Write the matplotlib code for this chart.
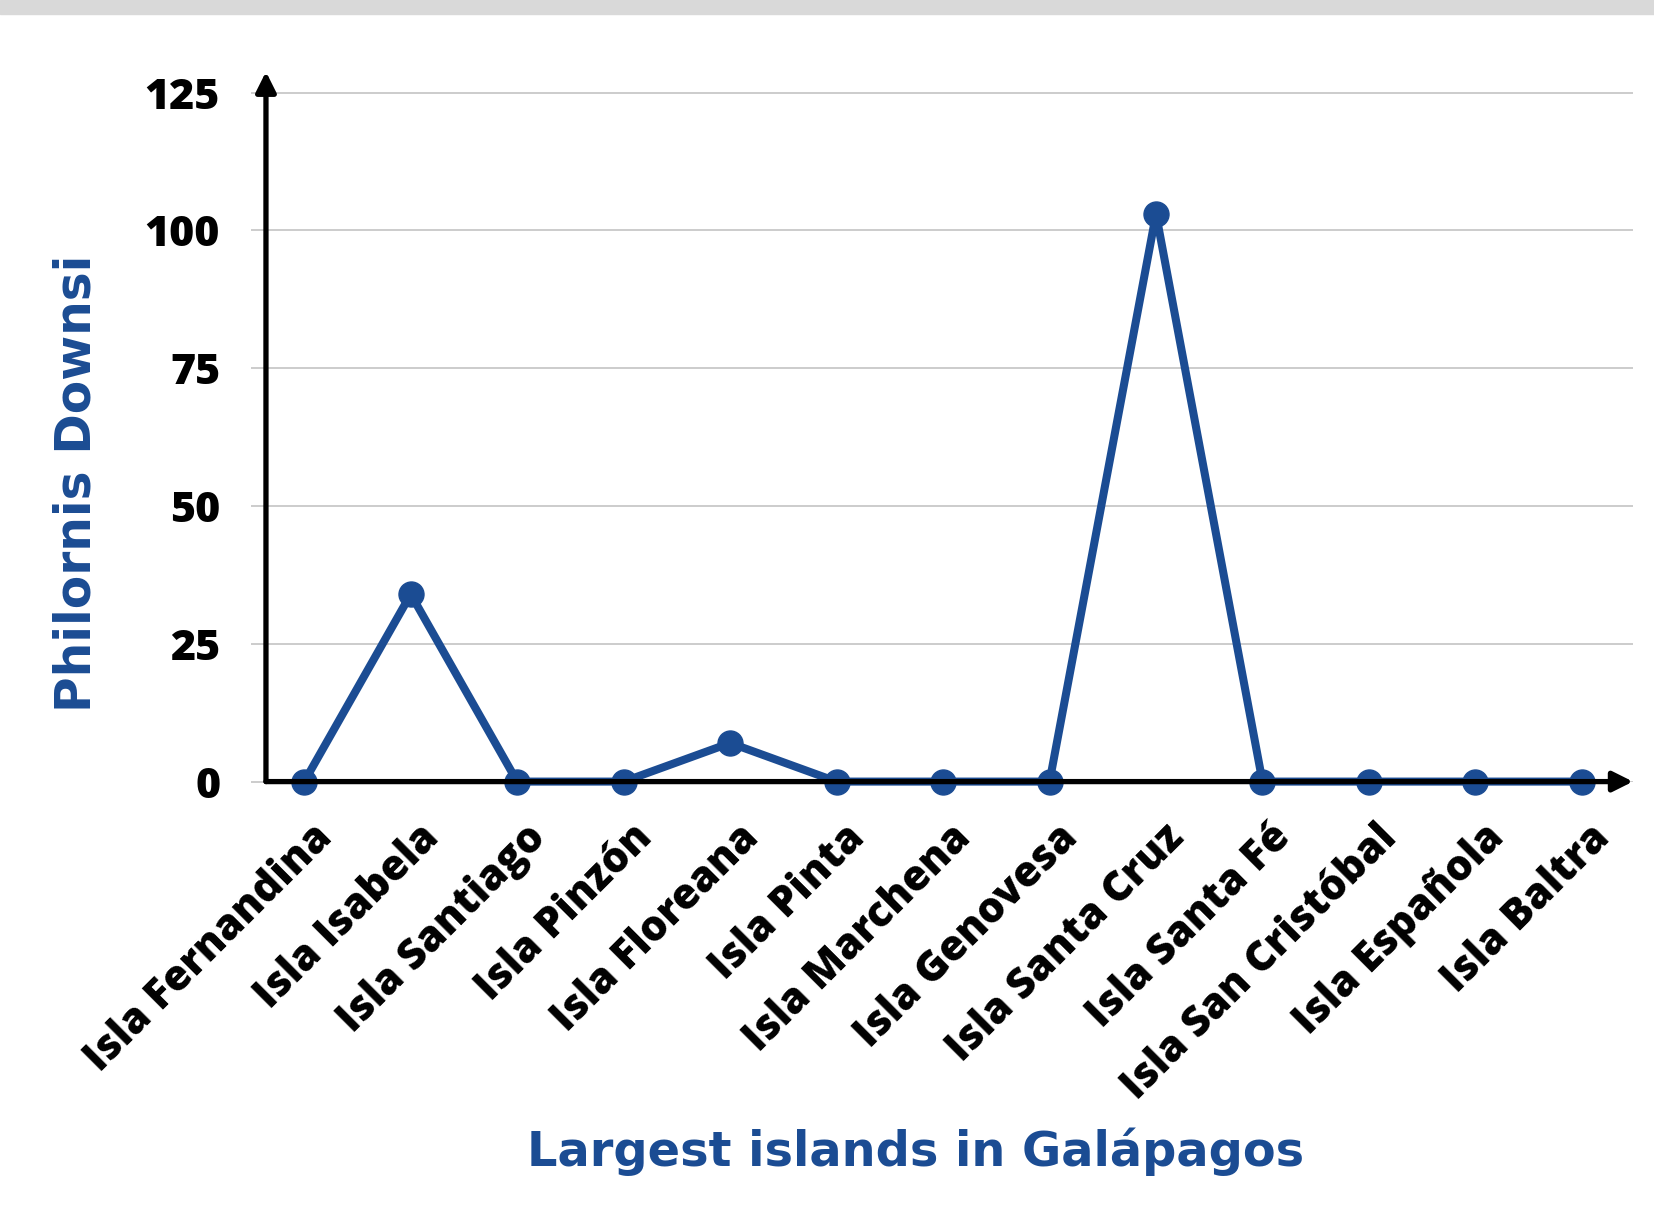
import matplotlib.pyplot as plt
from matplotlib.transforms import ScaledTranslation
from matplotlib.patches import Rectangle

# Data
ISLANDS = ['Isla Fernandina', 'Isla Isabela', 'Isla Santiago', 'Isla Pinzón',
           'Isla Floreana', 'Isla Pinta', 'Isla Marchena', 'Isla Genovesa',
           'Isla Santa Cruz', 'Isla Santa Fé', 'Isla San Cristóbal',
           'Isla Española', 'Isla Baltra']
COUNTS = [0, 34, 0, 0, 7, 0, 0, 0, 103, 0, 0, 0, 0]
Y_TICKS = [0, 25, 50, 75, 100, 125]

BLUE = '#1B4C93'
GRID = '#c4c4c4'
TICK_FONT = 'Open Sans'
LABEL_FONT = 'DejaVu Sans'

fig = plt.figure(figsize=(16.54, 12.22), dpi=100)
fig.patches.append(Rectangle((0, 1 - 14 / 1222), 1, 14 / 1222, transform=fig.transFigure,
                             color='#d9d9d9', zorder=0))
ax = fig.add_axes([0.1608, 0.3604, 0.8265, 0.5809])

x = list(range(len(ISLANDS)))
ax.plot(x, COUNTS, color=BLUE, lw=5.8, marker='o', markersize=18,
        clip_on=False, zorder=3)

ax.set_xlim(-0.36, 12.48)
ax.set_ylim(0, 128.8)

for side in ['top', 'right', 'left', 'bottom']:
    ax.spines[side].set_visible(False)

# axes drawn as arrows
for tip in [(0, 1), (1, 0)]:
    ax.annotate('', xy=tip, xytext=(0, 0), xycoords='axes fraction',
                arrowprops=dict(arrowstyle='-|>', lw=3.8, color='black',
                                mutation_scale=30, shrinkA=0, shrinkB=0),
                zorder=4, annotation_clip=False)

ax.set_yticks(Y_TICKS)
ax.set_yticklabels([str(v) for v in Y_TICKS], fontfamily=TICK_FONT,
                   fontweight=800, fontsize=31)
ax.yaxis.grid(True, color=GRID, lw=1.2)
ax.tick_params(axis='y', length=11, width=1.2, color=GRID, pad=22)

ax.set_xticks(x)
ax.set_xticklabels(ISLANDS, rotation=45, ha='right', va='center',
                   rotation_mode='anchor', fontfamily=TICK_FONT,
                   fontweight=800, fontsize=30)
ax.tick_params(axis='x', length=0, pad=36)
offset = ScaledTranslation(22 / 100, 0, fig.dpi_scale_trans)
for lab in ax.get_xticklabels():
    lab.set_transform(lab.get_transform() + offset)

fig.text(0.5538, 0.0573, 'Largest islands in Galápagos', color=BLUE,
         fontfamily=LABEL_FONT, fontweight='bold', fontsize=34.5,
         ha='center', va='center')
fig.text(0.046, 0.6043, 'Philornis Downsi', color=BLUE, rotation=90,
         fontfamily=LABEL_FONT, fontweight='bold', fontsize=35,
         ha='center', va='center')

fig.savefig('out.png', dpi=100)
